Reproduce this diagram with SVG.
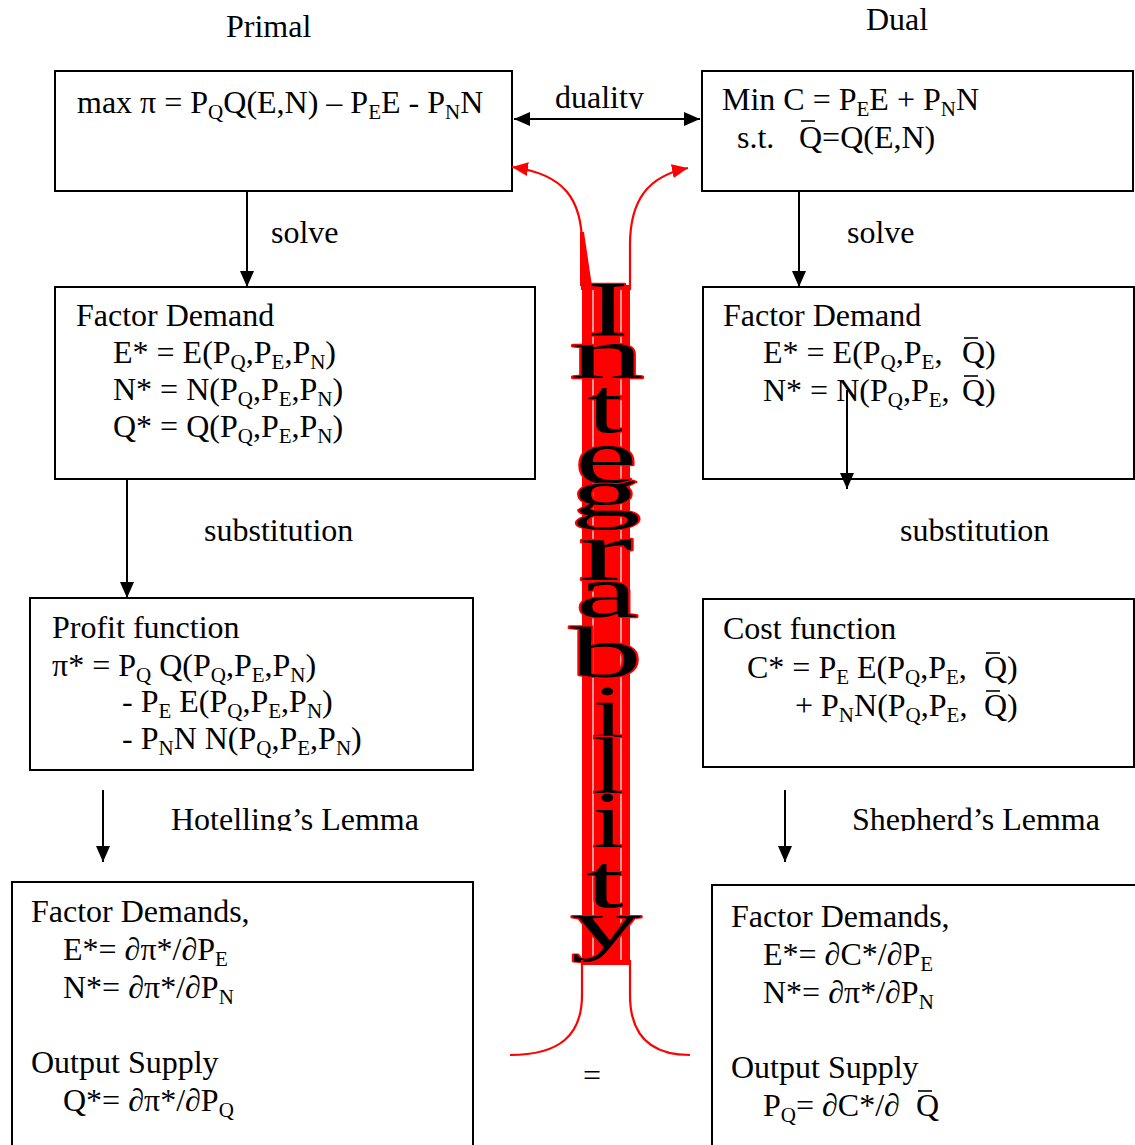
<svg xmlns="http://www.w3.org/2000/svg" width="1135" height="1145" viewBox="0 0 1135 1145">
<style>
  text { font-family: "Liberation Serif", "Times New Roman", serif; font-size: 32px; fill: #000; white-space: pre; }
  .s { font-size: 21px; }
  .box { fill: #fff; stroke: #000; stroke-width: 2; }
  .bar { stroke: #000; stroke-width: 1.6; }
  .arr { stroke: #000; stroke-width: 2; fill: none; }
  .red { stroke: #ff0000; stroke-width: 2.2; fill: none; }
  .ia { fill: #000; stroke: #ff0000; stroke-width: 1.3; paint-order: stroke; stroke-linejoin: round; font-size: 40px; text-anchor: middle; }
</style>
<defs>
  <marker id="ah" viewBox="0 0 16 14" refX="16" refY="7" markerWidth="16" markerHeight="14" orient="auto-start-reverse" markerUnits="userSpaceOnUse">
    <path d="M0,0 L16,7 L0,14 z" fill="#000"/>
  </marker>
  <marker id="rah" viewBox="0 0 16 14" refX="16" refY="7" markerWidth="16" markerHeight="14" orient="auto" markerUnits="userSpaceOnUse">
    <path d="M0,0 L16,7 L0,14 z" fill="#ff0000"/>
  </marker>
  <clipPath id="clipDual"><rect x="540" y="80" width="120" height="29"/></clipPath>
  <clipPath id="clipHot"><rect x="160" y="795" width="300" height="36"/></clipPath>
  <clipPath id="clipShep"><rect x="840" y="795" width="295" height="36"/></clipPath>
</defs>
<rect width="1135" height="1145" fill="#fff"/>

<!-- Integrability word art -->
<g id="integrability">
  <rect x="582" y="285" width="48" height="680" fill="#ff0000"/>
  <polygon points="580,232 584,232 592,286 580,286" fill="#ff0000"/>
  <line x1="593" y1="290" x2="593" y2="960" stroke="#fff" stroke-width="1.5" opacity="0.8"/>
  <line x1="621" y1="290" x2="621" y2="960" stroke="#fff" stroke-width="1.5" opacity="0.8"/>
  <text class="ia" transform="translate(608,335) scale(3.1,1.96)">I</text>
  <text class="ia" transform="translate(607,378) scale(3.7,1.8)">n</text>
  <text class="ia" transform="translate(605,432) scale(3.2,1.96)">t</text>
  <text class="ia" transform="translate(606,483) scale(3.5,1.96)">e</text>
  <text class="ia" transform="translate(606,516) scale(3.5,1.67)">g</text>
  <text class="ia" transform="translate(606,580) scale(4.0,2.17)">r</text>
  <text class="ia" transform="translate(607,617) scale(3.5,1.85)">a</text>
  <text class="ia" transform="translate(606,677) scale(3.6,1.78)">b</text>
  <text class="ia" transform="translate(608,737) scale(2.8,1.85)">i</text>
  <text class="ia" transform="translate(608,793) scale(2.8,2.0)">l</text>
  <text class="ia" transform="translate(608,847) scale(2.8,2.0)">i</text>
  <text class="ia" transform="translate(605,907) scale(3.4,1.9)">t</text>
  <text class="ia" transform="translate(606,948) scale(3.5,1.7)">y</text>
</g>

<!-- Headers and labels -->
<g id="labels">
  <text x="226" y="37">Primal</text>
  <text x="866" y="30">Dual</text>
  <text x="555" y="108" clip-path="url(#clipDual)">duality</text>
  <text x="271" y="243">solve</text>
  <text x="847" y="243">solve</text>
  <text x="204" y="541">substitution</text>
  <text x="900" y="541">substitution</text>
  <text x="171" y="830" clip-path="url(#clipHot)">Hotelling’s Lemma</text>
  <text x="852" y="830" clip-path="url(#clipShep)">Shepherd’s Lemma</text>
  <text x="583" y="1086">=</text>
</g>

<!-- Primal side -->
<g id="primal-max">
  <rect class="box" x="55" y="71" width="457" height="120"/>
  <text x="77" y="113">max π = P<tspan class="s" dy="6">Q</tspan><tspan dy="-6">Q(E,N) – P</tspan><tspan class="s" dy="6">E</tspan><tspan dy="-6">E - P</tspan><tspan class="s" dy="6">N</tspan><tspan dy="-6">N</tspan></text>
</g>

<g id="primal-factor-demand">
  <rect class="box" x="55" y="287" width="480" height="192"/>
  <text x="76" y="326">Factor Demand</text>
  <text x="113" y="363">E* = E(P<tspan class="s" dy="6">Q</tspan><tspan dy="-6">,P</tspan><tspan class="s" dy="6">E</tspan><tspan dy="-6">,P</tspan><tspan class="s" dy="6">N</tspan><tspan dy="-6">)</tspan></text>
  <text x="113" y="400">N* = N(P<tspan class="s" dy="6">Q</tspan><tspan dy="-6">,P</tspan><tspan class="s" dy="6">E</tspan><tspan dy="-6">,P</tspan><tspan class="s" dy="6">N</tspan><tspan dy="-6">)</tspan></text>
  <text x="113" y="437">Q* = Q(P<tspan class="s" dy="6">Q</tspan><tspan dy="-6">,P</tspan><tspan class="s" dy="6">E</tspan><tspan dy="-6">,P</tspan><tspan class="s" dy="6">N</tspan><tspan dy="-6">)</tspan></text>
</g>

<g id="profit-function">
  <rect class="box" x="30" y="598" width="443" height="172"/>
  <text x="52" y="638">Profit function</text>
  <text x="52" y="676">π* = P<tspan class="s" dy="6">Q</tspan><tspan dy="-6"> Q(P</tspan><tspan class="s" dy="6">Q</tspan><tspan dy="-6">,P</tspan><tspan class="s" dy="6">E</tspan><tspan dy="-6">,P</tspan><tspan class="s" dy="6">N</tspan><tspan dy="-6">)</tspan></text>
  <text x="122" y="712">- P<tspan class="s" dy="6">E</tspan><tspan dy="-6"> E(P</tspan><tspan class="s" dy="6">Q</tspan><tspan dy="-6">,P</tspan><tspan class="s" dy="6">E</tspan><tspan dy="-6">,P</tspan><tspan class="s" dy="6">N</tspan><tspan dy="-6">)</tspan></text>
  <text x="122" y="749">- P<tspan class="s" dy="6">N</tspan><tspan dy="-6">N N(P</tspan><tspan class="s" dy="6">Q</tspan><tspan dy="-6">,P</tspan><tspan class="s" dy="6">E</tspan><tspan dy="-6">,P</tspan><tspan class="s" dy="6">N</tspan><tspan dy="-6">)</tspan></text>
</g>

<g id="primal-derivatives">
  <path class="box" d="M12,1150 L12,882 L473,882 L473,1150"/>
  <text x="31" y="922">Factor Demands,</text>
  <text x="63" y="960">E*= ∂π*/∂P<tspan class="s" dy="6">E</tspan></text>
  <text x="63" y="998">N*= ∂π*/∂P<tspan class="s" dy="6">N</tspan></text>
  <text x="31" y="1073">Output Supply</text>
  <text x="63" y="1111">Q*= ∂π*/∂P<tspan class="s" dy="6">Q</tspan></text>
</g>

<!-- Dual side -->
<g id="dual-min">
  <rect class="box" x="702" y="71" width="431" height="120"/>
  <text x="722" y="110">Min C = P<tspan class="s" dy="6">E</tspan><tspan dy="-6">E + P</tspan><tspan class="s" dy="6">N</tspan><tspan dy="-6">N</tspan></text>
  <text x="737" y="148">s.t.<tspan x="799">Q=Q(E,N)</tspan></text>
  <line class="bar" x1="801" y1="121" x2="815" y2="121"/>
</g>

<g id="dual-factor-demand">
  <rect class="box" x="703" y="287" width="431" height="192"/>
  <text x="723" y="326">Factor Demand</text>
  <text x="763" y="363">E* = E(P<tspan class="s" dy="6">Q</tspan><tspan dy="-6">,P</tspan><tspan class="s" dy="6">E</tspan><tspan dy="-6">,</tspan><tspan x="962">Q)</tspan></text>
  <text x="763" y="401">N* = N(P<tspan class="s" dy="6">Q</tspan><tspan dy="-6">,P</tspan><tspan class="s" dy="6">E</tspan><tspan dy="-6">,</tspan><tspan x="962">Q)</tspan></text>
  <line class="bar" x1="964" y1="338" x2="978" y2="338"/>
  <line class="bar" x1="964" y1="376" x2="978" y2="376"/>
</g>

<g id="cost-function">
  <rect class="box" x="703" y="599" width="431" height="168"/>
  <text x="723" y="639">Cost function</text>
  <text x="747" y="678">C* = P<tspan class="s" dy="6">E</tspan><tspan dy="-6"> E(P</tspan><tspan class="s" dy="6">Q</tspan><tspan dy="-6">,P</tspan><tspan class="s" dy="6">E</tspan><tspan dy="-6">,</tspan><tspan x="984">Q)</tspan></text>
  <text x="795" y="716">+ P<tspan class="s" dy="6">N</tspan><tspan dy="-6">N(P</tspan><tspan class="s" dy="6">Q</tspan><tspan dy="-6">,P</tspan><tspan class="s" dy="6">E</tspan><tspan dy="-6">,</tspan><tspan x="984">Q)</tspan></text>
  <line class="bar" x1="986" y1="653" x2="1000" y2="653"/>
  <line class="bar" x1="986" y1="691" x2="1000" y2="691"/>
</g>

<g id="dual-derivatives">
  <path class="box" d="M712,1150 L712,885 L1140,885"/>
  <text x="731" y="927">Factor Demands,</text>
  <text x="763" y="965">E*= ∂C*/∂P<tspan class="s" dy="6">E</tspan></text>
  <text x="763" y="1003">N*= ∂π*/∂P<tspan class="s" dy="6">N</tspan></text>
  <text x="731" y="1078">Output Supply</text>
  <text x="763" y="1116">P<tspan class="s" dy="6">Q</tspan><tspan dy="-6">= ∂C*/∂</tspan><tspan x="916">Q</tspan></text>
  <line class="bar" x1="918" y1="1091" x2="932" y2="1091"/>
</g>

<!-- Connectors -->
<g id="connectors">
  <line class="arr" x1="514" y1="119" x2="700" y2="119" marker-start="url(#ah)" marker-end="url(#ah)" stroke-width="1.3"/>
  <line class="arr" x1="247" y1="191" x2="247" y2="287" marker-end="url(#ah)"/>
  <line class="arr" x1="799" y1="191" x2="799" y2="287" marker-end="url(#ah)"/>
  <line class="arr" x1="127" y1="479" x2="127" y2="598" marker-end="url(#ah)"/>
  <line class="arr" x1="847" y1="390" x2="847" y2="489" marker-end="url(#ah)"/>
  <line class="arr" x1="103" y1="790" x2="103" y2="862" marker-end="url(#ah)"/>
  <line class="arr" x1="785" y1="790" x2="785" y2="862" marker-end="url(#ah)"/>
  <path class="red" d="M582,290 L582,245 C582,200 565,174 512,167" marker-end="url(#rah)"/>
  <path class="red" d="M630,290 L630,245 C630,200 648,176 688,168" marker-end="url(#rah)"/>
  <path class="red" d="M582,960 L582,995 C582,1035 560,1055 510,1055"/>
  <path class="red" d="M630,960 L630,995 C630,1035 650,1055 690,1055"/>
</g>
</svg>
